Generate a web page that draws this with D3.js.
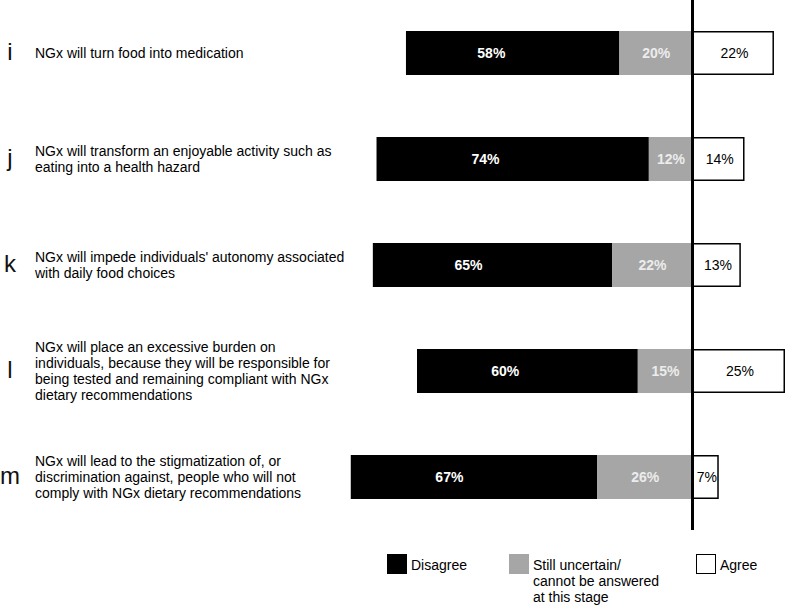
<!DOCTYPE html>
<html>
<head>
<meta charset="utf-8">
<script src="https://cdn.jsdelivr.net/npm/d3@7"></script>
<style>
  body { margin: 0; background: #fff; }
  svg { display: block; font-family: "Liberation Sans", Arial, Helvetica, sans-serif; }
</style>
</head>
<body>
<div id="vis"></div>
<script>
// item letters and statement text (one entry per line)
const letters = ["i", "j", "k", "l", "m"];
const statements = [
  ["NGx will turn food into medication"],
  ["NGx will transform an enjoyable activity such as", "eating into a health hazard"],
  ["NGx will impede individuals' autonomy associated", "with daily food choices"],
  ["NGx will place an excessive burden on", "individuals, because they will be responsible for",
   "being tested and remaining compliant with NGx", "dietary recommendations"],
  ["NGx will lead to the stigmatization of, or", "discrimination against, people who will not",
   "comply with NGx dietary recommendations"]
];

// percentages
const disagree  = [58, 74, 65, 60, 67];
const uncertain = [20, 12, 22, 15, 26];
const agree     = [22, 14, 13, 25, 7];

const legendLabels = [
  ["Disagree"],
  ["Still uncertain/", "cannot be answered", "at this stage"],
  ["Agree"]
];

var width = 787, height = 606;

var svg = d3.select("#vis")
  .append("svg")
  .attr("width", width)
  .attr("height", height);

// scales
var x = d3.scaleLinear()
  .domain([-100, 25])
  .range([325, 785]);

var y = d3.scaleBand()
  .domain(letters)
  .range([0, 530])
  .paddingInner(0.585)
  .paddingOuter(0.2925);

var rows = letters.map((l, i) => ({
  letter: l,
  lines: statements[i],
  dis: disagree[i],
  unc: uncertain[i],
  agr: agree[i]
}));

var row = svg.append("g")
  .selectAll("g")
  .data(rows)
  .enter()
  .append("g");

// disagree (black)
row.append("rect")
  .attr("x", d => x(-(d.dis + d.unc)))
  .attr("y", d => y(d.letter))
  .attr("width", d => x(-d.unc) - x(-(d.dis + d.unc)))
  .attr("height", y.bandwidth())
  .attr("fill", "#000");

// uncertain (grey)
row.append("rect")
  .attr("x", d => x(-d.unc))
  .attr("y", d => y(d.letter))
  .attr("width", d => x(0) - x(-d.unc))
  .attr("height", y.bandwidth())
  .attr("fill", "#a6a6a6");

// agree (white, outlined)
row.append("rect")
  .attr("x", x(0))
  .attr("y", d => y(d.letter) + 0.75)
  .attr("width", d => x(d.agr) - x(0) - 0.75)
  .attr("height", y.bandwidth() - 1.5)
  .attr("fill", "#fff")
  .attr("stroke", "#000")
  .attr("stroke-width", 1.5);

// labels inside bars
var mid = d => y(d.letter) + y.bandwidth() / 2;

row.append("text")
  .attr("x", d => x(-(d.dis + d.unc)) + 0.4 * (x(-d.unc) - x(-(d.dis + d.unc))))
  .attr("y", mid)
  .attr("dy", "0.36em")
  .attr("text-anchor", "middle")
  .attr("fill", "#fff")
  .style("font-size", "14px")
  .style("font-weight", "bold")
  .text(d => d.dis + "%");

row.append("text")
  .attr("x", d => (x(-d.unc) + x(0)) / 2)
  .attr("y", mid)
  .attr("dy", "0.36em")
  .attr("text-anchor", "middle")
  .attr("fill", "#ececec")
  .style("font-size", "14px")
  .style("font-weight", "bold")
  .text(d => d.unc + "%");

row.append("text")
  .attr("x", d => (x(0) + x(d.agr)) / 2 + 1)
  .attr("y", mid)
  .attr("dy", "0.36em")
  .attr("text-anchor", "middle")
  .attr("fill", "#000")
  .style("font-size", "14px")
  .text(d => d.agr + "%");

// letters on the left
row.append("text")
  .attr("x", 10)
  .attr("y", mid)
  .attr("dy", "0.3em")
  .attr("text-anchor", "middle")
  .attr("fill", "#111")
  .style("font-size", "24px")
  .text(d => d.letter);

// statements
row.append("text")
  .attr("fill", "#000")
  .style("font-size", "14px")
  .each(function (d) {
    var t = d3.select(this);
    var n = d.lines.length;
    d.lines.forEach((line, i) => {
      t.append("tspan")
        .attr("x", 35)
        .attr("y", mid(d) + (i - (n - 1) / 2) * 16)
        .attr("dy", "0.35em")
        .text(line);
    });
  });

// zero line
svg.append("line")
  .attr("x1", x(0) - 0.5)
  .attr("x2", x(0) - 0.5)
  .attr("y1", 0)
  .attr("y2", 530)
  .attr("stroke", "#000")
  .attr("stroke-width", 3);

// legend
var legendX = [387, 509, 696];
var legendFill = ["#000", "#a6a6a6", "#fff"];

var legend = svg.append("g")
  .selectAll("g")
  .data(legendLabels)
  .enter()
  .append("g")
  .attr("transform", (d, i) => "translate(" + legendX[i] + ",554)");

legend.append("rect")
  .attr("x", 0.5)
  .attr("y", 0.5)
  .attr("width", 19)
  .attr("height", 19)
  .attr("fill", (d, i) => legendFill[i])
  .attr("stroke", (d, i) => i === 2 ? "#000" : legendFill[i])
  .attr("stroke-width", 1);

legend.append("text")
  .attr("fill", "#000")
  .style("font-size", "14px")
  .each(function (d) {
    var t = d3.select(this);
    d.forEach((line, i) => {
      t.append("tspan")
        .attr("x", 24)
        .attr("y", 11 + i * 16)
        .attr("dy", "0.35em")
        .text(line);
    });
  });
</script>
</body>
</html>
